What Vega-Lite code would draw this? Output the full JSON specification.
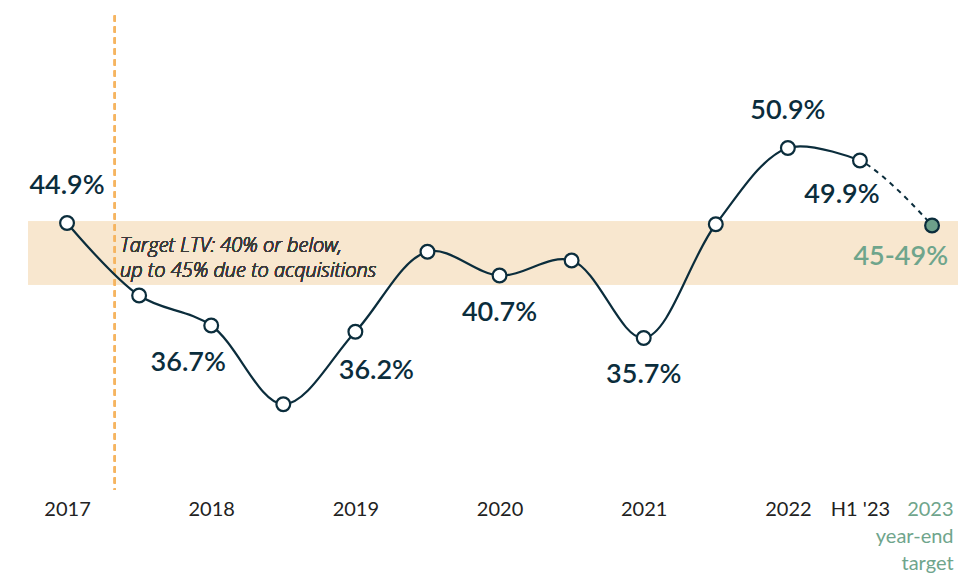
{
  "$schema": "https://vega.github.io/schema/vega-lite/v6.json",
  "width": 958,
  "height": 490,
  "autosize": {"type": "none"},
  "padding": {"left": 0, "top": 0, "right": 0, "bottom": 83},
  "background": "white",
  "config": {"view": {"stroke": null}, "font": "Lato"},
  "data": {
    "values": [
      {"year": 2017, "value": 44.9, "label": "44.9%"},
      {"year": 2017.5, "value": 39.1, "label": ""},
      {"year": 2018, "value": 36.7, "label": "36.7%"},
      {"year": 2018.5, "value": 30.4, "label": ""},
      {"year": 2019, "value": 36.2, "label": "36.2%"},
      {"year": 2019.5, "value": 42.6, "label": ""},
      {"year": 2020, "value": 40.7, "label": "40.7%"},
      {"year": 2020.5, "value": 41.9, "label": ""},
      {"year": 2021, "value": 35.7, "label": "35.7%"},
      {"year": 2021.5, "value": 44.8, "label": ""},
      {"year": 2022, "value": 50.9, "label": "50.9%"},
      {"year": 2022.5, "value": 49.9, "label": "49.9%"},
      {"year": 2023, "value": 44.7, "label": "45-49%"}
    ]
  },
  "encoding": {
    "x": {
      "field": "year", "type": "quantitative",
      "scale": {"domain": [2016.535, 2023.18], "nice": false, "zero": false},
      "axis": {
        "title": null, "domain": false, "ticks": false, "grid": false,
        "values": [2017, 2018, 2019, 2020, 2021, 2022, 2022.5, 2023],
        "labelExpr": "datum.value == 2023 ? ['2023', 'year-end', 'target'] : datum.value == 2022.5 ? \"H1 '23\" : format(datum.value, 'd')",
        "labelFontSize": 20, "labelColor": {"condition": {"test": "datum.value == 2023", "value": "#6fa58c"}, "value": "#222222"},
        "labelAlign": {"condition": {"test": "datum.value == 2023", "value": "right"}, "value": "center"},
        "labelOffset": {"condition": {"test": "datum.value == 2023", "value": 21}, "value": 0},
        "labelPadding": 9, "labelLineHeight": 27, "labelOverlap": false, "labelBound": false, "labelFlush": false
      }
    },
    "y": {
      "field": "value", "type": "quantitative",
      "scale": {"domain": [23.54, 62.74], "nice": false, "zero": false},
      "axis": null
    }
  },
  "layer": [
    {
      "mark": {"type": "rect", "color": "#f8e7cf"},
      "encoding": {
        "x": {"datum": 2016.73}, "x2": {"datum": 2023.18},
        "y": {"datum": 40}, "y2": {"datum": 45}
      }
    },
    {
      "mark": {"type": "rule", "color": "#f5b462", "strokeWidth": 1.5, "strokeDash": [6, 5]},
      "encoding": {
        "x": {"datum": 2017.33},
        "y": {"datum": 61.5}, "y2": {"datum": 23.54}
      }
    },
    {
      "mark": {"type": "text", "align": "left", "baseline": "middle", "font": "Open Sans", "fontStyle": "italic", "fontWeight": 300, "fontSize": 20, "color": "#3a3a3a", "lineHeight": 25},
      "encoding": {
        "x": {"datum": 2017.367}, "y": {"datum": 43.1},
        "text": {"value": ["Target LTV: 40% or below,", "up to 45% due to acquisitions"]}
      }
    },
    {
      "transform": [{"filter": "datum.year >= 2021.5"}],
      "mark": {"type": "line", "interpolate": "catmull-rom", "color": "#0b2d3c", "strokeWidth": 2, "strokeDash": [0, 188, 5, 5, 5, 5, 5, 5, 5, 5, 5, 5, 5, 5, 5, 5, 5, 5, 5, 5, 5, 5, 5, 5, 5, 5, 5, 5, 5, 5, 5, 5, 5, 5, 5, 5, 5, 5, 5, 5, 5, 5, 5, 5]}
    },
    {
      "transform": [{"filter": "datum.year <= 2022.5"}],
      "mark": {"type": "line", "interpolate": "catmull-rom", "color": "#0b2d3c", "strokeWidth": 2.2}
    },
    {
      "transform": [{"filter": "datum.year <= 2022.5"}],
      "mark": {"type": "point", "filled": true, "fill": "white", "stroke": "#0b2d3c", "strokeWidth": 2.2, "size": 190, "opacity": 1}
    },
    {
      "transform": [{"filter": "datum.year == 2023"}],
      "mark": {"type": "point", "filled": true, "fill": "#6da08a", "stroke": "#0b2d3c", "strokeWidth": 2.2, "size": 190, "opacity": 1}
    },
    {
      "transform": [{"filter": "datum.year == 2017 || datum.year == 2022"}],
      "mark": {"type": "text", "fontSize": 27, "fontWeight": 600, "color": "#0b2d3c", "baseline": "middle", "dy": -37},
      "encoding": {"text": {"field": "label"}}
    },
    {
      "transform": [{"filter": "datum.year == 2020 || datum.year == 2021"}],
      "mark": {"type": "text", "fontSize": 27, "fontWeight": 600, "color": "#0b2d3c", "baseline": "middle", "dy": 37},
      "encoding": {"text": {"field": "label"}}
    },
    {
      "transform": [{"filter": "datum.year == 2018"}],
      "mark": {"type": "text", "fontSize": 27, "fontWeight": 600, "color": "#0b2d3c", "baseline": "middle", "dx": -23, "dy": 37},
      "encoding": {"text": {"field": "label"}}
    },
    {
      "transform": [{"filter": "datum.year == 2019"}],
      "mark": {"type": "text", "fontSize": 27, "fontWeight": 600, "color": "#0b2d3c", "baseline": "middle", "dx": 21, "dy": 39},
      "encoding": {"text": {"field": "label"}}
    },
    {
      "transform": [{"filter": "datum.year == 2022.5"}],
      "mark": {"type": "text", "fontSize": 27, "fontWeight": 600, "color": "#0b2d3c", "baseline": "middle", "dx": -18, "dy": 34},
      "encoding": {"text": {"field": "label"}}
    },
    {
      "transform": [{"filter": "datum.year == 2023"}],
      "mark": {"type": "text", "fontSize": 27, "fontWeight": 600, "color": "#6fa58c", "baseline": "middle", "align": "right", "dx": 16, "dy": 31},
      "encoding": {"text": {"field": "label"}}
    }
  ]
}
